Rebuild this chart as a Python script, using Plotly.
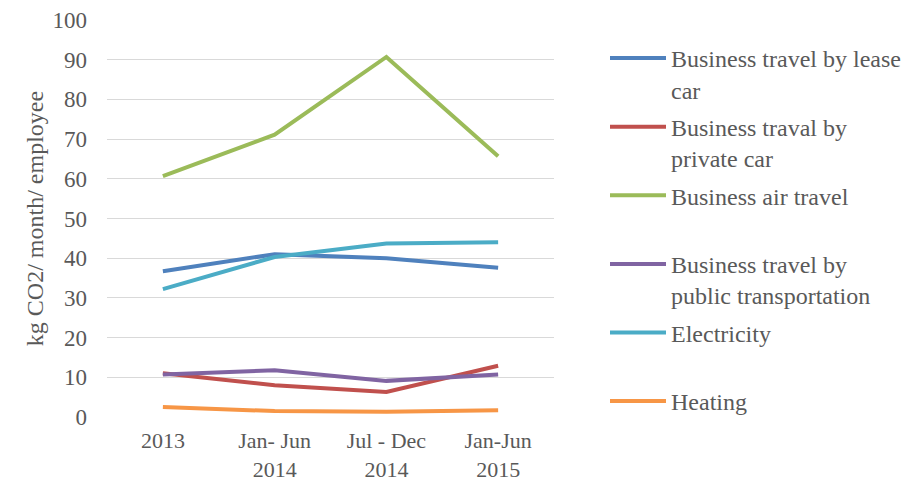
import plotly.graph_objects as go

categories = ["2013", "Jan- Jun<br>2014", "Jul - Dec<br>2014", "Jan-Jun<br>2015"]
series_names = [
    "Business travel by lease<br>car",
    "Business traval by<br>private car",
    "Business air travel<br>\u00a0",
    "Business travel by<br>public transportation",
    "Electricity<br>\u00a0",
    "Heating<br>\u00a0",
]
lease_car = [36.7, 41.0, 40.0, 37.6]
private_car = [11.0, 8.0, 6.3, 12.9]
air_travel = [60.7, 71.1, 90.7, 65.7]
public_transport = [10.7, 11.8, 9.1, 10.7]
electricity = [32.2, 40.3, 43.7, 44.0]
heating = [2.5, 1.5, 1.3, 1.7]
y_ticks = [0, 10, 20, 30, 40, 50, 60, 70, 80, 90, 100]

series_values = [lease_car, private_car, air_travel, public_transport, electricity, heating]
colors = ["#4F81BD", "#C0504D", "#9BBB59", "#8064A2", "#4BACC6", "#F79646"]

FONT = "Liberation Serif"
TXT = "#595959"
FS = 23
XFS = 22
LFS = 24

fig = go.Figure()
for i, (name, vals, col) in enumerate(zip(series_names, series_values, colors)):
    fig.add_trace(go.Scatter(
        x=categories, y=vals, name=name, mode="lines",
        line=dict(color=col, width=4),
        legendgroup=f"g{i}",
    ))

fig.update_layout(
    width=919, height=483,
    margin=dict(l=99, r=373, t=12, b=74, autoexpand=False),
    paper_bgcolor="white", plot_bgcolor="white",
    font=dict(family=FONT, size=FS, color=TXT),
    showlegend=True,
    legend=dict(
        xref="container", yref="container",
        x=597 / 919, y=1 - 28 / 483, xanchor="left", yanchor="top",
        font=dict(family=FONT, size=LFS, color=TXT),
        valign="top", tracegroupgap=3.2, itemwidth=56,
        maxheight=480,
        bgcolor="rgba(0,0,0,0)",
    ),
    xaxis=dict(
        type="category", range=[-0.5, 3.5], showgrid=False, zeroline=False,
        showline=False, ticks="", ticklabelstandoff=8,
        tickfont=dict(family=FONT, size=XFS, color=TXT),
    ),
    yaxis=dict(
        range=[0, 100], tickvals=y_ticks, showgrid=True, gridcolor="#D9D9D9",
        gridwidth=1.3, zeroline=False, showline=False, ticks="",
        ticklabelstandoff=19,
        tickfont=dict(family=FONT, size=FS, color=TXT),
        title=dict(text="kg CO2/ month/ employee", font=dict(family=FONT, size=24, color=TXT), standoff=2),
    ),
)

fig.write_html("out.html")
